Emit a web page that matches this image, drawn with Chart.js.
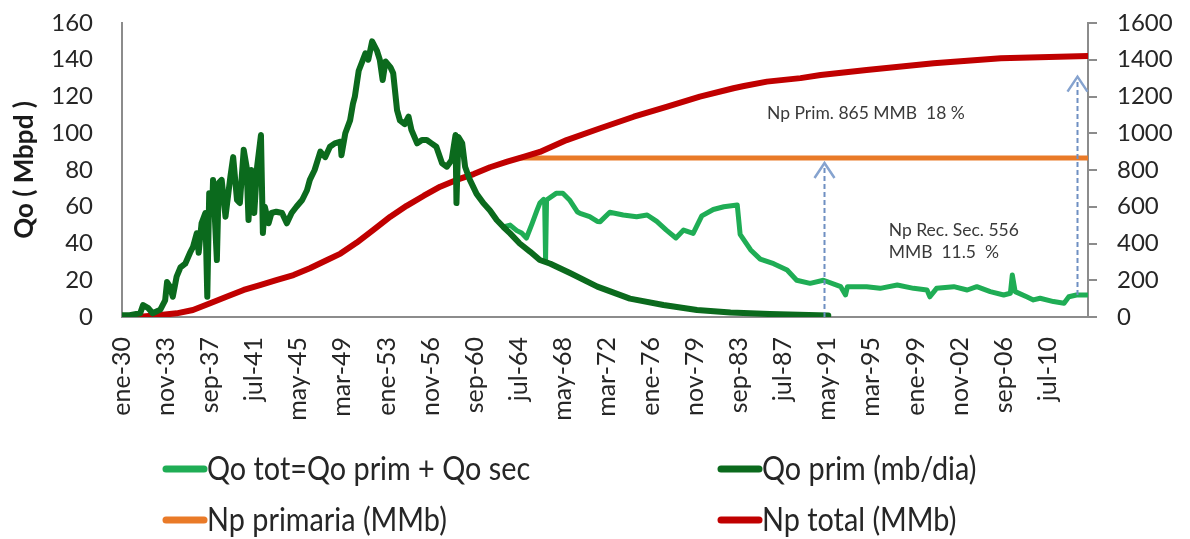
<!DOCTYPE html>
<html>
<head>
<meta charset="utf-8">
<script src="https://cdn.jsdelivr.net/npm/chart.js@4.4.1/dist/chart.umd.min.js"></script>
<style>
  html, body { margin: 0; padding: 0; background: #ffffff; }
  #wrap { width: 1190px; height: 539px; position: relative; }
</style>
</head>
<body>
<div id="wrap"><canvas id="chart" width="1190" height="539"></canvas></div>
<script>
// Months are counted from ene-30 (month 0).
const tickMonths = [0, 46, 92, 138, 184, 230, 276, 322, 368, 414, 460, 506, 552, 598, 644, 690, 736, 782, 828, 874, 920, 966];
const tickLabels = ['ene-30', 'nov-33', 'sep-37', 'jul-41', 'may-45', 'mar-49', 'ene-53', 'nov-56', 'sep-60', 'jul-64', 'may-68',
                    'mar-72', 'ene-76', 'nov-79', 'sep-83', 'jul-87', 'may-91', 'mar-95', 'ene-99', 'nov-02', 'sep-06', 'jul-10'];

// Qo prim (Mbpd) : [month, rate]
const qoPrim = [
  [0, 1], [8, 1], [19, 2], [22, 6.5], [27, 5], [32, 2], [40, 4], [45, 9], [47, 19], [50, 16.5], [53, 11], [57, 22],
  [61, 27], [66, 29], [71, 35], [74, 38], [78, 45.6], [80, 35], [83, 51], [87, 56.6], [89, 11], [91, 67.4], [94, 56.6],
  [95, 74.6], [99, 31], [101, 73], [104, 74.6], [108, 54.6], [113, 76], [116, 87], [120, 63.7], [123, 62], [127, 91],
  [130, 81.8], [132, 52.8], [135, 80], [138, 56.6], [141, 81.8], [145, 99], [147, 45.7], [149, 60], [153, 51],
  [156, 56.6], [161, 57.3], [167, 56.6], [172, 51], [177, 56.6], [182, 60], [188, 63.7], [193, 69], [196, 74.6],
  [201, 80], [207, 90], [212, 87], [217, 92.7], [222, 94.5], [228, 95.4], [229, 88], [233, 100], [238, 107],
  [241, 116], [243, 120], [247, 134], [254, 143.5], [257, 140], [261, 150], [266, 145], [269, 140], [272, 129],
  [275, 139], [280, 136], [283, 132.6], [287, 112.6], [290, 107], [295, 105], [299, 109], [302, 101.8], [308, 94.5],
  [313, 96.3], [318, 96.3], [323, 94.5], [328, 92.7], [334, 83.6], [339, 81.8], [344, 85.4], [348, 99], [349, 62],
  [351, 98], [355, 94.5], [358, 81.8], [363, 74.6], [370, 67], [377, 62], [384, 58], [391, 52.8], [398, 49],
  [405, 45.5], [415, 40], [426, 35.5], [436, 31], [447, 29], [468, 23.8], [496, 16.5], [530, 10], [565, 6.5],
  [600, 3.8], [635, 2.4], [676, 1.6], [737, 0.8]
];

// Qo tot = Qo prim + Qo sec (Mbpd) : [month, rate]
const qoTot = [
  [398, 49], [405, 50], [412, 47], [417, 45.7], [422, 43], [428, 51], [433, 58], [436, 62], [440, 64], [441, 63],
  [442, 31], [443, 63.7], [453, 67.3], [460, 67.3], [467, 63.7], [475, 57.3], [478, 56.4], [488, 54.6], [496, 52],
  [499, 51.9], [509, 57], [523, 55.5], [537, 54.6], [548, 55.5], [558, 52], [568, 47.3], [578, 43], [586, 47.3],
  [596, 45.5], [605, 55], [617, 58.5], [628, 60], [642, 61], [645, 45], [656, 36.5], [666, 31.5], [680, 29],
  [694, 25.6], [704, 20], [718, 18.3], [732, 20], [750, 16.5], [755, 12], [757, 16.5], [777, 16.5], [791, 15.6],
  [809, 17.4], [826, 15.6], [840, 14.7], [843, 11], [850, 15.6], [868, 16.5], [882, 14.7], [892, 16.5], [906, 13.8],
  [920, 12], [927, 12.9], [929, 22.9], [932, 13.8], [944, 11], [951, 9.3], [958, 10.2], [972, 8.4], [983, 7.5],
  [988, 11], [996, 12], [1007, 12]
];

// Np primaria (MMb) : [month, cumulative]
const npPrim = [[415, 865], [1008, 865]];

// Np total (MMb) : [month, cumulative]
const npTotal = [
  [0, 0], [19, 2], [40, 11], [57, 20], [74, 38], [92, 75], [109, 110], [127, 147], [144, 174], [161, 201],
  [179, 228], [196, 265], [214, 310], [228, 345], [245, 405], [262, 473], [280, 546], [297, 605], [315, 660],
  [332, 709], [349, 746], [367, 778], [384, 815], [402, 845], [419, 872], [436, 898], [464, 963], [499, 1027],
  [534, 1090], [569, 1145], [603, 1199], [638, 1245], [649, 1257], [673, 1281], [708, 1300], [729, 1317],
  [777, 1344], [847, 1381], [917, 1408], [1008, 1421]
];

const FONT = 'Lato, "Open Sans", "DejaVu Sans", sans-serif';
const AXIS_GREY = '#8c8c8c';
const TEXT = '#262626';

const toXY = pairs => pairs.map(([x, y]) => ({ x, y }));

// Dashed arrows and free text drawn in data coordinates
const notes = {
  arrows: [
    { month: 732, from: 0, to: 838 },
    { month: 996, from: 12, to: 1308 }
  ],
  texts: [
    { month: 673, axis: 'y1', value: 1110, text: 'Np Prim. 865 MMB  18 %' },
    { month: 800, axis: 'y', value: 47.3, text: 'Np Rec. Sec. 556' },
    { month: 800, axis: 'y', value: 35.4, text: 'MMB  11.5  %' }
  ]
};

const notesPlugin = {
  id: 'notes',
  afterDatasetsDraw(chart) {
    const { ctx, scales: { x, y, y1 } } = chart;
    ctx.save();
    notes.arrows.forEach(a => {
      const px = Math.round(x.getPixelForValue(a.month)) + 0.5;
      const yBottom = y.getPixelForValue(a.from);
      const yTip = y1.getPixelForValue(a.to);
      ctx.strokeStyle = '#6f8fc2';
      ctx.lineWidth = 2;
      ctx.setLineDash([5, 3]);
      ctx.beginPath();
      ctx.moveTo(px, yBottom);
      ctx.lineTo(px, yTip + 2);
      ctx.stroke();
      ctx.setLineDash([]);
      ctx.strokeStyle = '#86a3cf';
      ctx.lineWidth = 2.5;
      ctx.lineJoin = 'miter';
      ctx.beginPath();
      ctx.moveTo(px - 10, yTip + 15);
      ctx.lineTo(px, yTip);
      ctx.lineTo(px + 10, yTip + 15);
      ctx.stroke();
    });
    ctx.fillStyle = '#3a3a3a';
    ctx.font = '17.5px ' + FONT;
    ctx.textAlign = 'left';
    ctx.textBaseline = 'middle';
    notes.texts.forEach(t => {
      const sc = t.axis === 'y1' ? y1 : y;
      ctx.fillText(t.text, x.getPixelForValue(t.month), sc.getPixelForValue(t.value));
    });
    ctx.restore();
  }
};

// Two-column legend under the axis labels
const legendPlugin = {
  id: 'gridLegend',
  afterDraw(chart) {
    const { ctx } = chart;
    const cols = [166, 721];
    const rows = [469, 520];
    ctx.save();
    chart.data.datasets.forEach((ds, i) => {
      const cx = cols[i % 2];
      const cy = rows[Math.floor(i / 2)];
      ctx.strokeStyle = ds.borderColor;
      ctx.lineWidth = 7;
      ctx.lineCap = 'round';
      ctx.beginPath();
      ctx.moveTo(cx, cy);
      ctx.lineTo(cx + 38, cy);
      ctx.stroke();
      ctx.save();
      ctx.translate(cx + 41, cy);
      ctx.scale(0.9, 1);
      ctx.fillStyle = TEXT;
      ctx.font = '32px ' + FONT;
      ctx.textAlign = 'left';
      ctx.textBaseline = 'middle';
      ctx.fillText(ds.label, 0, 1);
      ctx.restore();
    });
    ctx.restore();
  }
};

// Keeps the value axes from pushing the plot top down
const fitSide = width => s => {
  s.width = width;
  s.paddingTop = 12;
  s.paddingBottom = 12;
};

new Chart(document.getElementById('chart'), {
  type: 'line',
  data: {
    datasets: [
      { label: 'Qo tot=Qo prim + Qo sec', data: toXY(qoTot), borderColor: '#1fad55', borderWidth: 5, yAxisID: 'y', order: 2 },
      { label: 'Qo prim (mb/dia)', data: toXY(qoPrim), borderColor: '#0b6a1d', borderWidth: 6, yAxisID: 'y', order: 1 },
      { label: 'Np primaria (MMb)', data: toXY(npPrim), borderColor: '#e97a28', borderWidth: 5, yAxisID: 'y1', order: 4 },
      { label: 'Np total (MMb)', data: toXY(npTotal), borderColor: '#c00000', borderWidth: 6, yAxisID: 'y1', order: 3 }
    ]
  },
  options: {
    responsive: false,
    animation: false,
    layout: { padding: { top: 23, left: 0, right: 0, bottom: 0 } },
    elements: {
      point: { radius: 0, hoverRadius: 0 },
      line: { tension: 0, borderJoinStyle: 'round', borderCapStyle: 'round', fill: false }
    },
    plugins: { legend: { display: false }, tooltip: { enabled: false } },
    scales: {
      x: {
        type: 'linear', min: 0, max: 1008,
        grid: { display: false, drawTicks: false },
        border: { color: AXIS_GREY, width: 2 },
        afterBuildTicks: s => { s.ticks = tickMonths.map(v => ({ value: v })); },
        afterFit: s => { s.height = 222; },
        ticks: {
          autoSkip: false, minRotation: 90, maxRotation: 90, padding: 20,
          font: { family: FONT, size: 25 }, color: TEXT,
          callback: (v, i) => tickLabels[i]
        }
      },
      y: {
        position: 'left', min: 0, max: 160,
        grid: { display: false, drawTicks: false },
        border: { color: AXIS_GREY, width: 2 },
        ticks: { stepSize: 20, padding: 29, font: { family: FONT, size: 24 }, color: TEXT },
        title: { display: true, text: 'Qo ( Mbpd )', font: { family: FONT, size: 26, weight: 'bold' }, color: '#1a1a1a', padding: { top: 9, bottom: 0 } },
        afterFit: fitSide(122)
      },
      y1: {
        position: 'right', min: 0, max: 1600,
        grid: { display: true, drawOnChartArea: false, drawTicks: true, tickLength: 9, color: AXIS_GREY, lineWidth: 2 },
        border: { color: AXIS_GREY, width: 2 },
        ticks: { stepSize: 200, padding: 20, font: { family: FONT, size: 24 }, color: TEXT, callback: v => String(v) },
        afterFit: fitSide(102)
      }
    }
  },
  plugins: [notesPlugin, legendPlugin]
});
</script>
</body>
</html>
